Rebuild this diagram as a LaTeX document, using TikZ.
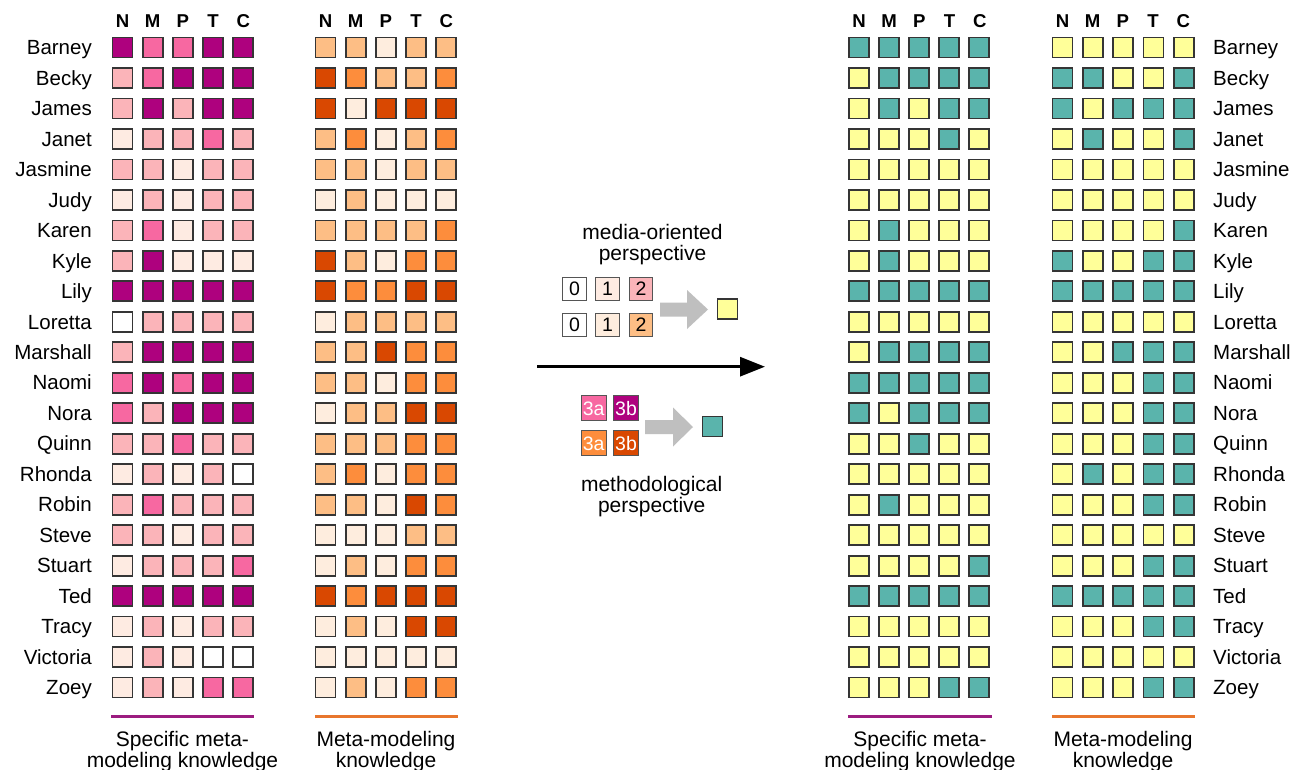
\documentclass[tikz,border=0pt]{standalone}
\usepackage{fontspec}
\setmainfont{Liberation Sans}
\usetikzlibrary{arrows.meta}

% sequential palettes (level 0..4)
\definecolor{pk0}{HTML}{FFFFFF}
\definecolor{pk1}{HTML}{FEEBE2}
\definecolor{pk2}{HTML}{FBB4B9}
\definecolor{pk3}{HTML}{F768A1}
\definecolor{pk4}{HTML}{AE017E}
\definecolor{og0}{HTML}{FFFFFF}
\definecolor{og1}{HTML}{FEEDDE}
\definecolor{og2}{HTML}{FDBE85}
\definecolor{og3}{HTML}{FD8D3C}
\definecolor{og4}{HTML}{D94801}
\definecolor{lowlvl}{HTML}{FFFF99}
\definecolor{highlvl}{HTML}{5AB4AC}
\definecolor{cellline}{HTML}{353535}
\definecolor{keyline}{HTML}{555555}
\definecolor{arrowgray}{HTML}{BFBFBF}
\definecolor{rulepk}{HTML}{9C1C80}
\definecolor{ruleog}{HTML}{E8762D}

\newcommand\namefont{\fontsize{20.5}{24}\selectfont}
\newcommand\headfont{\fontsize{18.6}{22}\selectfont\bfseries}
\newcommand\capfont{\fontsize{21}{21}\selectfont}
\newcommand\keyfont{\fontsize{19.5}{21}\selectfont}

\begin{document}
\begin{tikzpicture}[x=1pt,y=-1pt,
  cell/.style={draw=cellline,line width=1.7pt,minimum size=20pt,inner sep=0pt},
  keybox/.style={draw=keyline,line width=1.2pt,minimum size=23.5pt,inner sep=0pt,font=\keyfont},
  rowname/.style={inner sep=0pt,font=\namefont},
  colhead/.style={inner sep=0pt,font=\headfont,anchor=base},
  caption/.style={inner sep=0pt,align=center,font=\capfont,anchor=north},
  blockarrow/.style={fill=arrowgray}]
\useasboundingbox (0,0) rectangle (1294,769);
\fill[white] (0,0) rectangle (1294,769);

% column headers of the four grids
\foreach \gx [count=\gi] in {122.5,325.5,859,1062.5}{
  \foreach \h [count=\cc] in {N,M,P,T,C}{
    \node[colhead] (h-\gi-\cc) at ({\gx+30.2*(\cc-1)},27) {\h};
  }
}

% one row per student: specific meta-modeling levels / meta-modeling levels
\foreach \nm/\pk/\og [count=\rr] in {
  Barney/{4,3,3,4,4}/{2,2,1,2,2},
  Becky/{2,3,4,4,4}/{4,3,2,2,3},
  James/{2,4,2,4,4}/{4,1,4,4,4},
  Janet/{1,2,2,3,2}/{2,3,1,2,3},
  Jasmine/{2,2,1,2,2}/{2,2,1,2,2},
  Judy/{1,2,1,2,2}/{1,2,1,1,1},
  Karen/{2,3,1,2,2}/{2,2,2,2,3},
  Kyle/{2,4,1,1,1}/{4,2,1,3,3},
  Lily/{4,4,4,4,4}/{4,3,3,4,4},
  Loretta/{0,2,2,2,2}/{1,2,2,2,2},
  Marshall/{2,4,4,4,4}/{2,2,4,3,3},
  Naomi/{3,4,3,4,4}/{2,2,1,3,3},
  Nora/{3,2,4,4,4}/{1,2,2,4,4},
  Quinn/{2,2,3,2,2}/{2,2,2,3,3},
  Rhonda/{1,2,1,2,0}/{2,3,1,3,3},
  Robin/{2,3,2,2,2}/{2,2,1,4,3},
  Steve/{2,2,1,2,2}/{1,1,1,2,2},
  Stuart/{1,2,2,2,3}/{1,2,1,3,3},
  Ted/{4,4,4,4,4}/{4,3,4,4,4},
  Tracy/{1,2,1,2,2}/{1,2,1,4,4},
  Victoria/{1,2,1,0,0}/{1,1,1,1,1},
  Zoey/{1,2,1,3,3}/{1,2,1,3,3}}{
  \pgfmathsetmacro\yy{47.5+30.48*(\rr-1)}
  \node[rowname,anchor=base east] (ln-\rr) at (92,\yy+7.2) {\nm};
  \node[rowname,anchor=base west] (rn-\rr) at (1213,\yy+7.2) {\nm};
  \foreach \v [count=\cc] in \pk {
    \ifnum\v>2 \def\fc{highlvl}\else\def\fc{lowlvl}\fi
    \node[cell,fill=pk\v] (a-\rr-\cc) at ({122.5+30.2*(\cc-1)},\yy) {};
    \node[cell,fill=\fc] (c-\rr-\cc) at ({859+30*(\cc-1)},\yy) {};
  }
  \foreach \v [count=\cc] in \og {
    \ifnum\v>2 \def\fc{highlvl}\else\def\fc{lowlvl}\fi
    \node[cell,fill=og\v] (b-\rr-\cc) at ({325.5+30.2*(\cc-1)},\yy) {};
    \node[cell,fill=\fc] (d-\rr-\cc) at ({1062.5+30.3*(\cc-1)},\yy) {};
  }
}

% group rules and captions
\draw[rulepk,line width=3pt] (111,716.5) -- (254,716.5);
\draw[ruleog,line width=3pt] (315,716.5) -- (458,716.5);
\draw[rulepk,line width=3pt] (848,716.5) -- (992,716.5);
\draw[ruleog,line width=3pt] (1052,716.5) -- (1195,716.5);
\node[caption] (cap1) at (182.5,731) {Specific meta-\\modeling knowledge};
\node[caption] (cap2) at (386,731) {Meta-modeling\\knowledge};
\node[caption] (cap3) at (920,731) {Specific meta-\\modeling knowledge};
\node[caption] (cap4) at (1123,731) {Meta-modeling\\knowledge};

% key: media-oriented perspective
\node[caption] (media) at (652.5,224) {media-oriented\\perspective};
\node[keybox,fill=white] (k0a) at (574.5,289) {0};
\node[keybox,fill=pk1] (k1a) at (607.5,289) {1};
\node[keybox,fill=pk2] (k2a) at (641,289) {2};
\node[keybox,fill=white] (k0b) at (574.5,325) {0};
\node[keybox,fill=og1] (k1b) at (607.5,325) {1};
\node[keybox,fill=og2] (k2b) at (641,325) {2};
\node[cell,fill=lowlvl] (klow) at (727.5,309) {};
\coordinate (g1) at (660,309.5);
\fill[blockarrow] (g1) ++(0,-7) -- ++(27,0) -- ++(0,-12.5) -- ++(21,19.5)
  -- ++(-21,19.5) -- ++(0,-12.5) -- ++(-27,0) -- cycle;

% time axis
\coordinate (t0) at (537,366.7);
\coordinate (t1) at (765,366.7);
\draw[line width=3pt,-{Triangle[length=25pt,width=19pt]}] (t0) -- (t1);

% key: methodological perspective
\node[keybox,minimum size=25pt,fill=pk3,text=white] (k3a) at (593.7,408.3) {3a};
\node[keybox,minimum size=25pt,fill=pk4,text=white] (k3b) at (626,408.3) {3b};
\node[keybox,minimum size=25pt,fill=og3,text=white] (k3c) at (593.7,443.3) {3a};
\node[keybox,minimum size=25pt,fill=og4,text=white] (k3d) at (626,443.3) {3b};
\node[cell,fill=highlvl] (khigh) at (712.5,426.5) {};
\coordinate (g2) at (645,427);
\fill[blockarrow] (g2) ++(0,-7) -- ++(28,0) -- ++(0,-12.5) -- ++(20,19.5)
  -- ++(-20,19.5) -- ++(0,-12.5) -- ++(-28,0) -- cycle;
\node[caption] (method) at (651.7,476.5) {methodological\\perspective};
\end{tikzpicture}
\end{document}
